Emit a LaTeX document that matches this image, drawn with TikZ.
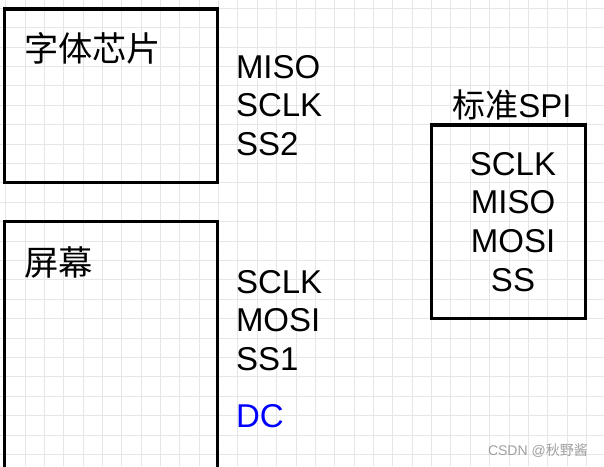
\documentclass[tikz,border=0pt]{standalone}
\usepackage{fontspec}
\setmainfont{Liberation Sans}
\newfontfamily\cjk{Noto Sans CJK SC}
\definecolor{gridc}{RGB}{230,230,230}
\definecolor{dcblue}{RGB}{0,0,255}
\definecolor{wm}{RGB}{160,160,160}
\begin{document}
\begin{tikzpicture}[x=1pt,y=-1pt,
  box/.style={draw=black, line width=3.2pt, inner sep=0pt, outer sep=0pt, anchor=north west},
  lbl/.style={anchor=base west, inner sep=0pt, outer sep=0pt, font=\fontsize{33}{38.7}\selectfont},
  cjklbl/.style={anchor=base west, inner sep=0pt, outer sep=0pt, font=\fontsize{34.3}{38.7}\selectfont\cjk},
  clbl/.style={anchor=base, inner sep=0pt, outer sep=0pt, font=\fontsize{33}{38.7}\selectfont},
  gridline/.style={draw=gridc, line width=1pt}]
\useasboundingbox (0,0) rectangle (604,466);
\fill[white] (0,0) rectangle (604,466);
% grid
\foreach \k in {0,...,30} {\draw[gridline] (5.64+19.36*\k,0) -- (5.64+19.36*\k,466);}
\foreach \k in {0,...,23} {\draw[gridline] (0,8.3+19.4*\k) -- (604,8.3+19.4*\k);}
% boxes
\node[box, minimum width=213.4pt, minimum height=173.7pt] (font) at (4.3,9) {};
\node[box, minimum width=213.4pt, minimum height=262pt] (screen) at (4.3,221.7) {};
\node[box, minimum width=154.5pt, minimum height=193.3pt] (spi) at (431.3,125) {};
% box labels
\node[cjklbl] (fontlbl) at (24,61) {字体芯片};
\node[cjklbl] (screenlbl) at (24,275) {屏幕};
\node[clbl] (spititle) at (512,117.3) {{\cjk 标准}SPI};
% font chip signals
\node[lbl] (f1) at (236,78) {MISO};
\node[lbl] (f2) at (236,116.7) {SCLK};
\node[lbl] (f3) at (236,155.4) {SS2};
% screen signals
\node[lbl] (s1) at (236,293) {SCLK};
\node[lbl] (s2) at (236,331.7) {MOSI};
\node[lbl] (s3) at (236,370.4) {SS1};
\node[lbl, text=dcblue] (s4) at (236,427) {DC};
% standard SPI signals
\node[clbl] (p1) at (513,175) {SCLK};
\node[clbl] (p2) at (513,213.7) {MISO};
\node[clbl] (p3) at (513,252.4) {MOSI};
\node[clbl] (p4) at (513,291.1) {SS};
% watermark
\node[anchor=base east, inner sep=0pt, text=wm, font=\fontsize{14}{16}\selectfont] (wmark) at (588,455) {CSDN @{\cjk 秋野酱}};
\end{tikzpicture}
\end{document}
